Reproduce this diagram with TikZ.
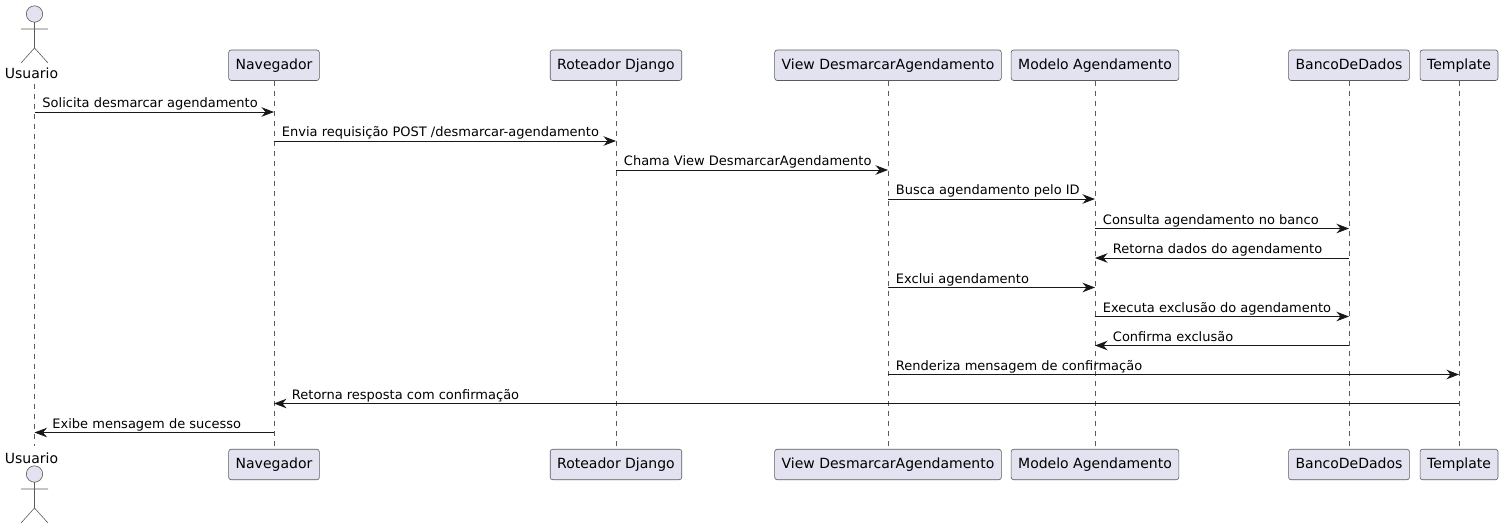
\documentclass[tikz,border=0pt]{standalone}
\usepackage{fontspec}
\setmainfont{DejaVu Sans}
\usetikzlibrary{arrows.meta,positioning}
\definecolor{partfill}{HTML}{E2E2F0}
\definecolor{partline}{HTML}{5B5B5B}
\definecolor{msgline}{HTML}{181818}
\tikzset{
  part/.style={draw=partline,fill=partfill,line width=0.6pt,rounded corners=2.5pt,
    minimum height=30.5pt,inner xsep=7pt,inner ysep=0pt,text=black,
    text height=10.5pt,text depth=3pt,font=\fontsize{14}{16}\selectfont},
  actorname/.style={inner sep=0pt,text height=10.5pt,text depth=3pt,font=\fontsize{14}{16}\selectfont},
  lifeline/.style={draw=partline,line width=0.5pt,dash pattern=on 5pt off 5pt},
  msg/.style={every edge/.style={draw=msgline,line width=0.9pt,-{Stealth[length=12.5pt,width=9.5pt,inset=4pt]}}},
  msgtext/.style={inner sep=0pt,anchor=base west,yshift=4.3pt,text depth=0pt,font=\fontsize{13}{15}\selectfont},
  fwd/.style={msgtext,pos=0,xshift=7.5pt},
  rev/.style={msgtext,pos=1,xshift=17.5pt},
  actorfig/.pic={
    \draw[draw=partline,fill=partfill,line width=0.6pt] (0,0) circle (8.2pt);
    \draw[draw=partline,line width=0.6pt] (0,8.2) -- (0,34) (-13.5,15) -- (13.5,15)
      (0,34) -- (-13.5,49) (0,34) -- (13.5,49);
  }
}
\begin{document}
\begin{tikzpicture}[x=1pt,y=-1pt,on grid]
  \useasboundingbox (0,0) rectangle (1505,530);
  % participants on top
  \node[part] (navegador) at (274,65.25) {Navegador};
  \node[part] (roteador) [right=342pt of navegador] {Roteador Django};
  \node[part] (view) [right=272pt of roteador] {View DesmarcarAgendamento};
  \node[part] (modelo) [right=207pt of view] {Modelo Agendamento};
  \node[part] (banco) [right=254pt of modelo] {BancoDeDados};
  \node[part] (template) [right=110pt of banco] {Template};
  \node[actorname] (usuarioName) at (31.5,75) {Usuario};
  % participants at the bottom
  \node[part] (navegadorB) [below=399.25pt of navegador] {Navegador};
  \node[part] (roteadorB) [below=399.25pt of roteador] {Roteador Django};
  \node[part] (viewB) [below=399.25pt of view] {View DesmarcarAgendamento};
  \node[part] (modeloB) [below=399.25pt of modelo] {Modelo Agendamento};
  \node[part] (bancoB) [below=399.25pt of banco] {BancoDeDados};
  \node[part] (templateB) [below=399.25pt of template] {Template};
  \node[actorname] (usuarioNameB) [below=385pt of usuarioName] {Usuario};
  % stick figures
  \pic at (34.5,14) {actorfig};
  \pic at (34.5,474) {actorfig};
  \coordinate (usuario) at (34.5,84);
  \coordinate (usuarioB) at (34.5,446);
  % lifelines
  \draw[lifeline] (usuario) -- (usuarioB);
  \foreach \p in {navegador,roteador,view,modelo,banco,template}
    \draw[lifeline] (\p.south) -- (\p B.north);
  % rows
  \foreach \p in {usuario,navegador,roteador,view,modelo,banco,template}
    \foreach \y [count=\i] in {112,141,170,199,228.5,258,287.5,316.5,345.5,374.5,403.5,432.5}
      \coordinate (\p-\i) at (\p |- 0,\y);
  \path[msg]
    (usuario-1) edge node[fwd] {Solicita desmarcar agendamento} (navegador-1)
    (navegador-2) edge node[fwd] {Envia requisição POST /desmarcar-agendamento} (roteador-2)
    (roteador-3) edge node[fwd] {Chama View DesmarcarAgendamento} (view-3)
    (view-4) edge node[fwd] {Busca agendamento pelo ID} (modelo-4)
    (modelo-5) edge node[fwd] {Consulta agendamento no banco} (banco-5)
    (banco-6) edge node[rev] {Retorna dados do agendamento} (modelo-6)
    (view-7) edge node[fwd] {Exclui agendamento} (modelo-7)
    (modelo-8) edge node[fwd] {Executa exclusão do agendamento} (banco-8)
    (banco-9) edge node[rev] {Confirma exclusão} (modelo-9)
    (view-10) edge node[fwd] {Renderiza mensagem de confirmação} (template-10)
    (template-11) edge node[rev] {Retorna resposta com confirmação} (navegador-11)
    (navegador-12) edge node[rev] {Exibe mensagem de sucesso} (usuario-12);
\end{tikzpicture}
\end{document}
